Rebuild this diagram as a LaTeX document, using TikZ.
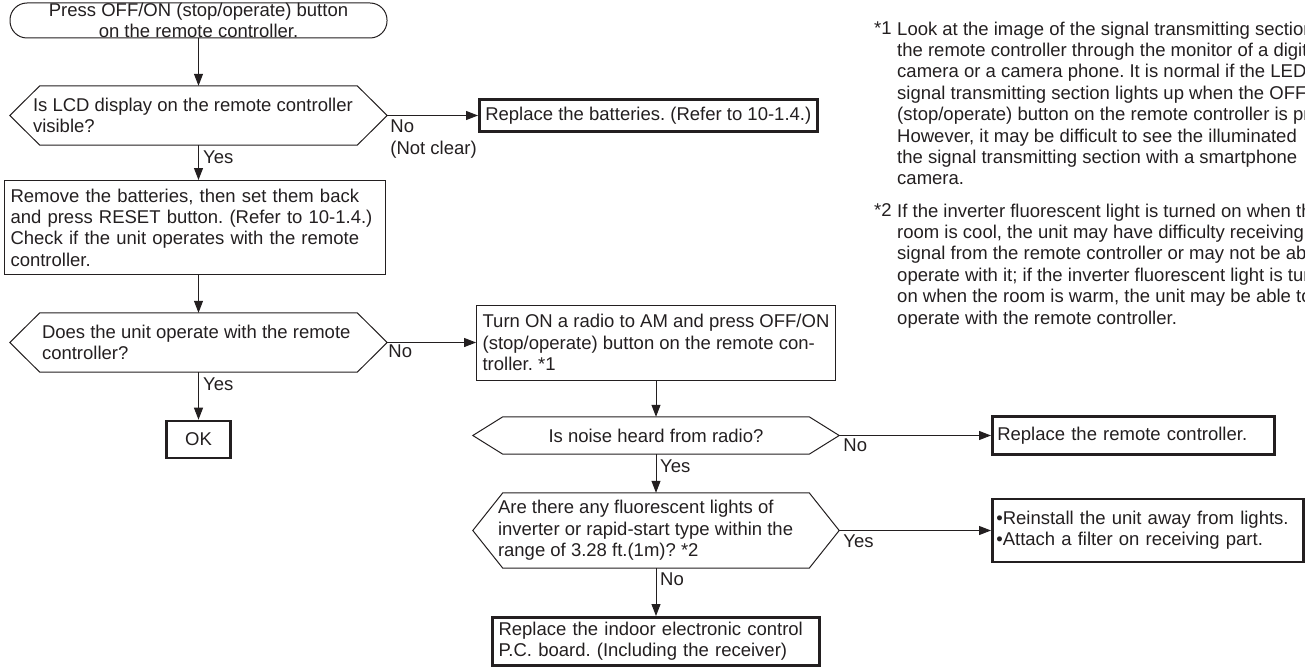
\documentclass[tikz,border=0pt]{standalone}
\usepackage{fontspec}
\setmainfont{Liberation Sans}
\usetikzlibrary{arrows.meta,positioning}
\definecolor{Ink}{HTML}{231F20}
\frenchspacing

\begin{document}
\begin{tikzpicture}[
    x=1pt, y=-1pt,
    font=\fontsize{18.5}{21.4}\selectfont,
    every node/.style={text=Ink, inner sep=0pt},
    line/.style={draw=Ink, line width=1pt},
    flow/.style={line, -{Triangle[length=12pt,width=9pt]}},
    startbox/.style={line, rounded corners=17pt, minimum width=377pt, minimum height=35pt, align=center},
    stepbox/.style={line, align=left, inner xsep=6pt},
    endbox/.style={draw=Ink, line width=2.6pt, align=left, inner xsep=6pt},
    dec/.style={minimum width=#1},
    dectext/.style={anchor=west, align=left},
    lbl/.style={align=left}
  ]
    \useasboundingbox (0,0) rectangle (1305,666);
    \clip (0,0) rectangle (1305,666);

    % left column
    \node[startbox] (start) at (198.5,20.5) {Press OFF/ON (stop/operate) button\\on the remote controller.};
    \node[dec=377pt, minimum height=59pt] (lcd) at (198.5,115.5) {};
    \node[dectext] (lcdtxt) at ([xshift=23pt]lcd.west) {Is LCD display on the remote controller\\visible?};
    \node[endbox, minimum height=32pt, anchor=west] (batt) at (478,115.5) {Replace the batteries. (Refer to 10-1.4.)};
    \node[stepbox, text width=369pt, minimum height=94pt, anchor=north west] (reset) at (4,180) {Remove the batteries, then set them back\\and press RESET button. (Refer to 10-1.4.)\\Check if the unit operates with the remote\\controller.};
    \node[dec=377pt, minimum height=59pt] (works) at (198.5,342.5) {};
    \node[dectext] (workstxt) at ([xshift=32pt]works.west) {Does the unit operate with the remote\\controller?};
    \node[endbox, minimum width=64pt, minimum height=37pt, inner xsep=0pt, align=center] (ok) at (198.5,439.5) {OK};

    % right column
    \node[stepbox, minimum width=357pt, minimum height=75pt] (radio) at (656,342.5) {Turn ON a radio to AM and press OFF/ON\\(stop/operate) button on the remote con-\\troller. *1};
    \node[dec=366pt, minimum height=37pt] (noise) at (656,435.5) {Is noise heard from radio?};
    \node[endbox, minimum height=38pt, text width=272pt, inner xsep=5pt, anchor=west] (remote) at (991,435.5) {Replace the remote controller.};
    \node[dec=366pt, minimum height=75pt] (lights) at (656,530.5) {};
    \node[dectext] (lightstxt) at ([xshift=25pt]lights.west) {Are there any fluorescent lights of\\inverter or rapid-start type within the\\range of 3.28 ft.(1m)? *2};
    \node[endbox, minimum height=63pt, text width=303pt, inner xsep=4pt, anchor=west] (away) at (991,530.5) {•Reinstall the unit away from lights.\\•Attach a filter on receiving part.};
    \node[endbox, minimum height=48pt, text width=315pt, anchor=north] (board) at (656,616) {Replace the indoor electronic control\\P.C. board. (Including the receiver)};

    % hexagon outlines of the questions
    \foreach \d in {lcd,works,noise,lights}
      \draw[line] (\d.west) -- ([xshift=30pt]\d.north west) -- ([xshift=-30pt]\d.north east)
        -- (\d.east) -- ([xshift=-30pt]\d.south east) -- ([xshift=30pt]\d.south west) -- cycle;

    \draw[flow] (start.south) -- (lcd.north);
    \draw[flow] (lcd.east) -- (batt.west);
    \draw[flow] (lcd.south) -- (lcd.south |- reset.north);
    \draw[flow] (lcd.south |- reset.south) -- (works.north);
    \draw[flow] (works.east) -- (radio.west);
    \draw[flow] (works.south) -- (ok.north);
    \draw[flow] (radio.south) -- (noise.north);
    \draw[flow] (noise.east) -- (remote.west);
    \draw[flow] (noise.south) -- (lights.north);
    \draw[flow] (lights.east) -- (away.west);
    \draw[flow] (lights.south) -- (board.north);

    \node[lbl, below right=4.5pt and 3pt of lcd.east] (lcdno) {No\\(Not clear)};
    \node[lbl, below right=5pt and 4.5pt of lcd.south] (lcdyes) {Yes};
    \node[lbl, below right=2.5pt and 1pt of works.east] (worksno) {No};
    \node[lbl, below right=5pt and 4.5pt of works.south] (worksyes) {Yes};
    \node[lbl, below right=3.5pt and 4pt of noise.east] (noiseno) {No};
    \node[lbl, below right=5pt and 4pt of noise.south] (noiseyes) {Yes};
    \node[lbl, below right=4.5pt and 4pt of lights.east] (lightsyes) {Yes};
    \node[lbl, below right=4pt and 4pt of lights.south] (lightsno) {No};

    % notes
    \node[anchor=north west] (mark1) at (874,21.5) {*1};
    \node[anchor=north west, align=left] (note1) at (897,21.5) {Look at the image of the signal transmitting section\\the remote controller through the monitor of a digital\\camera or a camera phone. It is normal if the LED\\signal transmitting section lights up when the OFF/ON\\(stop/operate) button on the remote controller is pressed.\\However, it may be difficult to see the illuminated\\the signal transmitting section with a smartphone\\camera.};
    \node[anchor=north west] (mark2) at (874,203.5) {*2};
    \node[anchor=north west, align=left] (note2) at (897,203.5) {If the inverter fluorescent light is turned on when the\\room is cool, the unit may have difficulty receiving\\signal from the remote controller or may not be able\\operate with it; if the inverter fluorescent light is turned\\on when the room is warm, the unit may be able to\\operate with the remote controller.};
  \end{tikzpicture}
\end{document}
